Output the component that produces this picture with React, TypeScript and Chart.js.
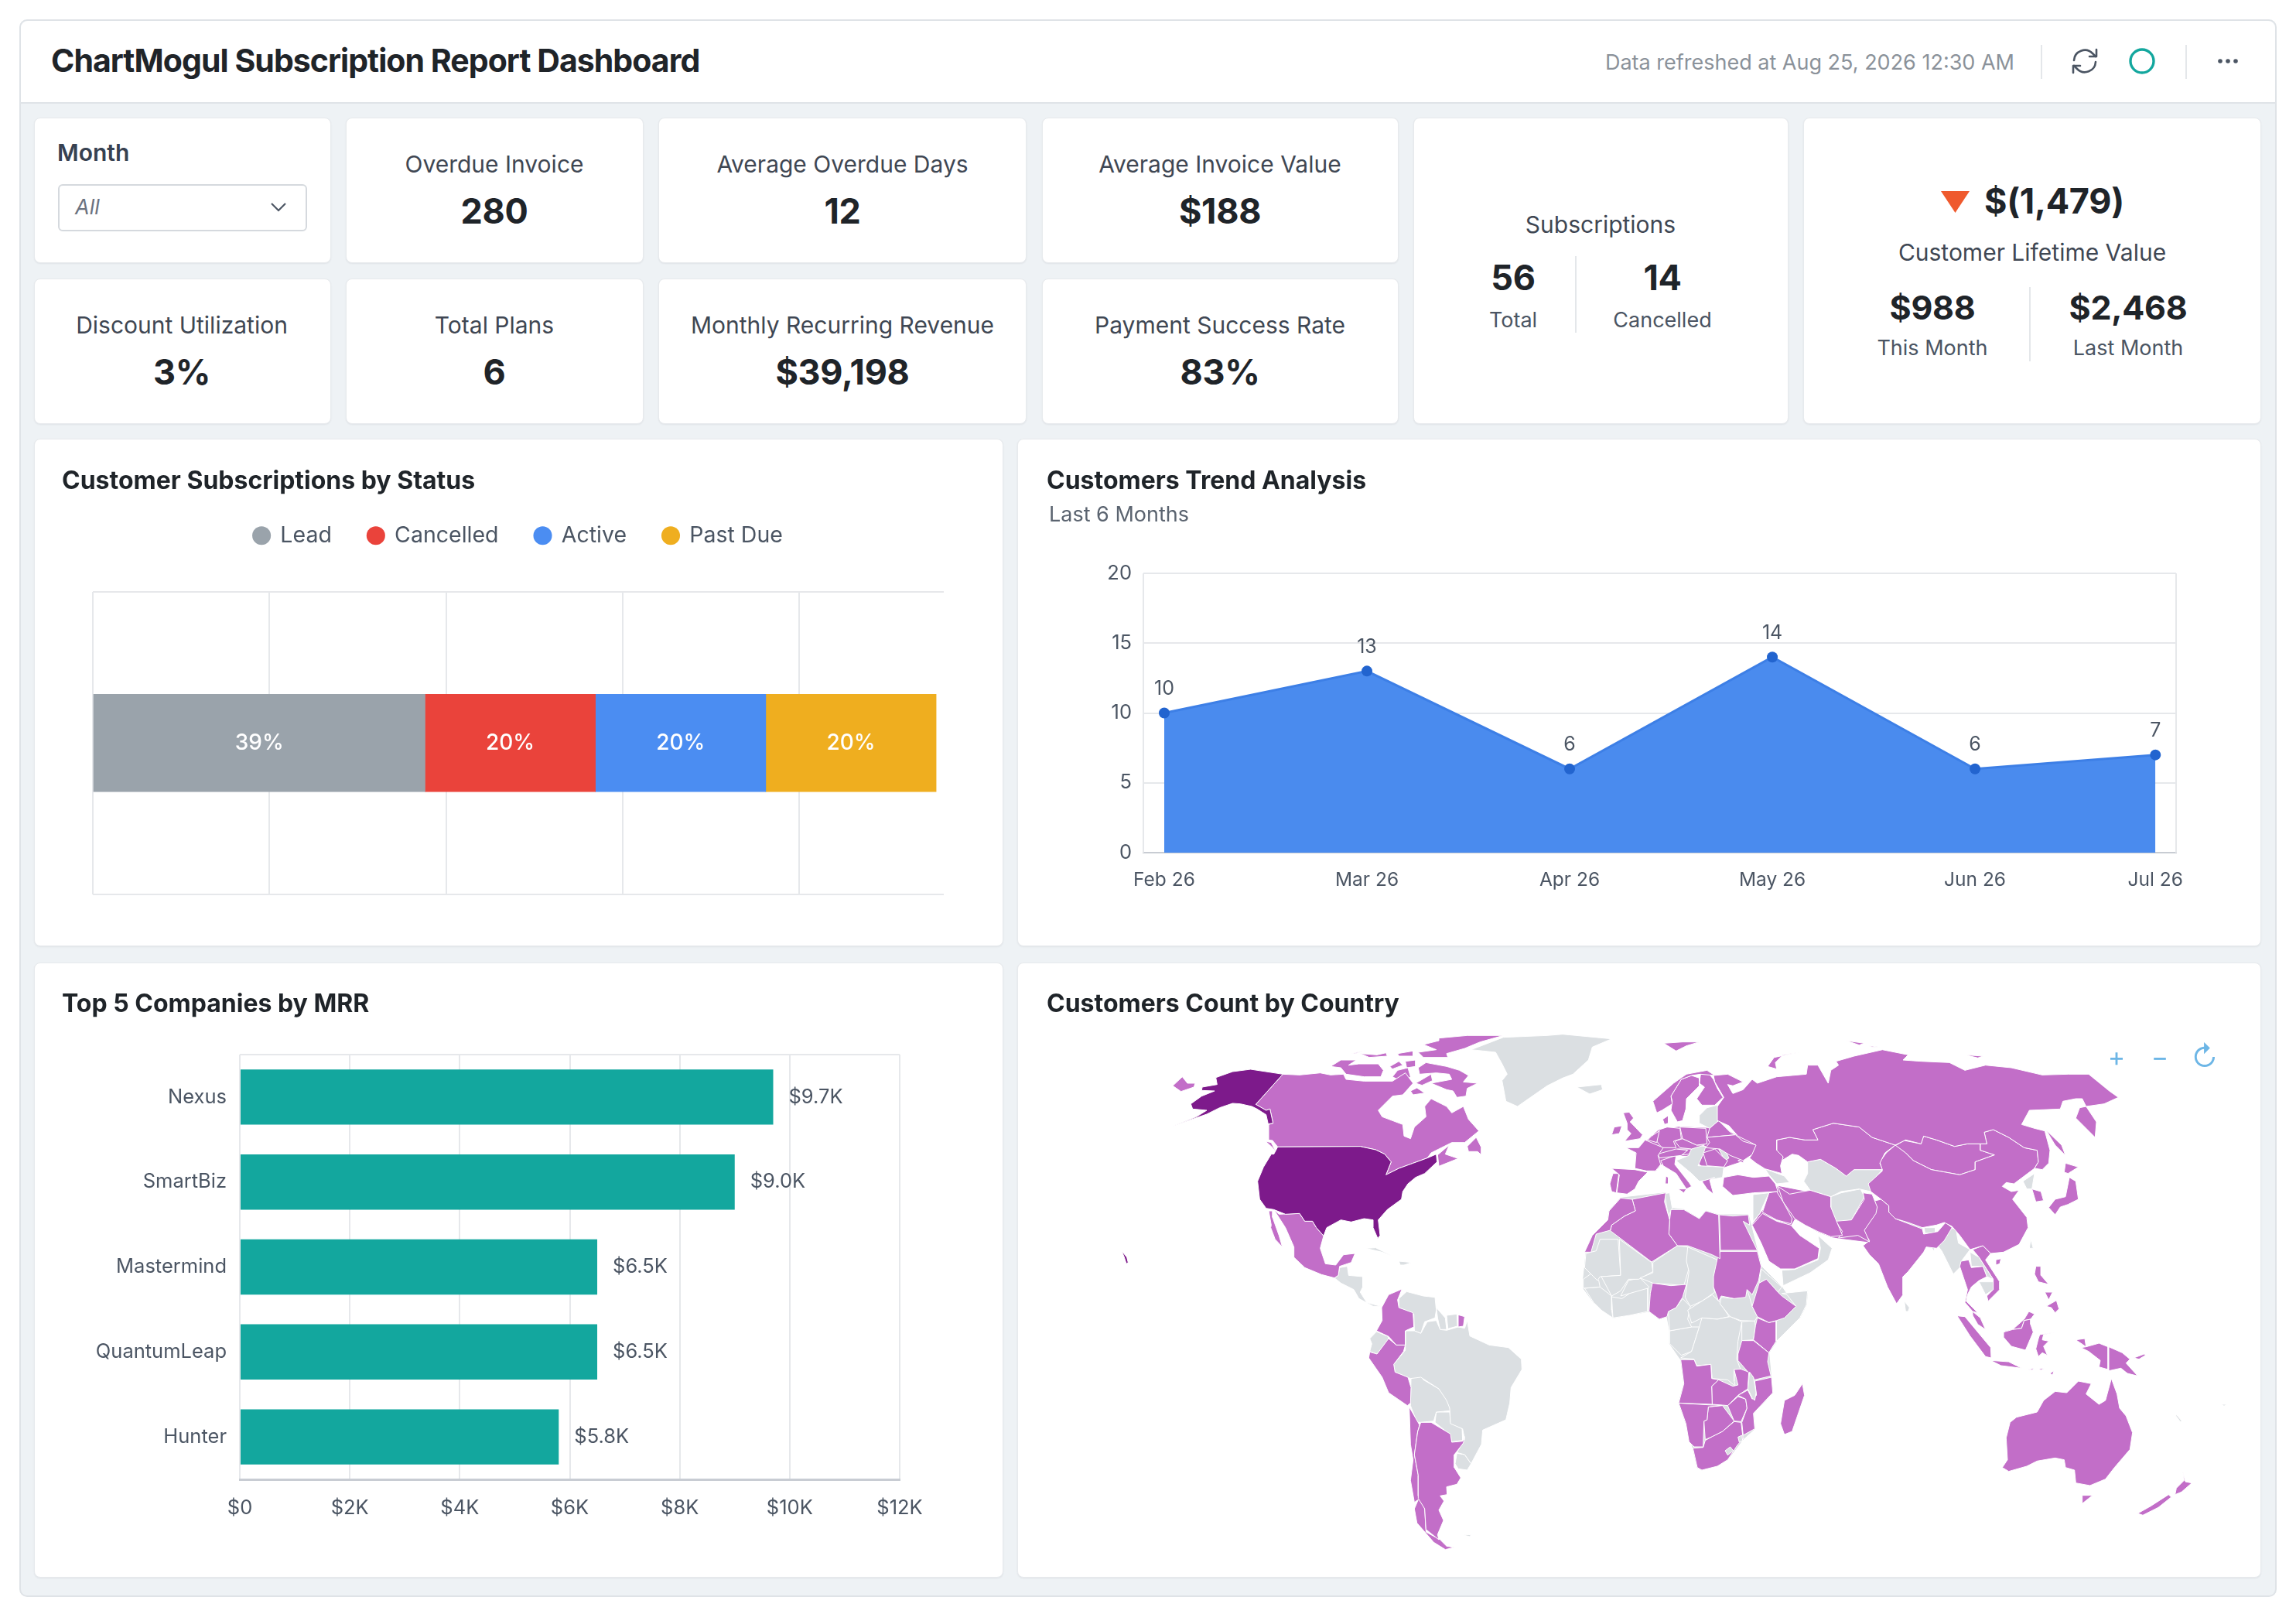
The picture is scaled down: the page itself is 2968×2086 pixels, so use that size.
import { useEffect, useRef } from "react";
import { Chart, registerables } from "chart.js";

Chart.register(...registerables);
Chart.defaults.font.family = "Inter";
Chart.defaults.color = "#4b5563";

// --- tiles ---
const tileTitles = ["Overdue Invoice", "Average Overdue Days", "Average Invoice Value", "Discount Utilization", "Total Plans", "Monthly Recurring Revenue", "Payment Success Rate"];
const tileValues = ["280", "12", "$188", "3%", "6", "$39,198", "83%"];

// --- Customer Subscriptions by Status ---
const statusNames = ["Lead", "Cancelled", "Active", "Past Due"];
const statusShares = [39, 20, 20, 20];
const statusColors = ["#9aa3ab", "#ea433b", "#4b8df2", "#efae1f"];

// --- Customers Trend Analysis ---
const trendMonths = ["Feb 26", "Mar 26", "Apr 26", "May 26", "Jun 26", "Jul 26"];
const trendSlots = [0, 1, 2, 3, 4, 4.89];
const trendCustomers = [10, 13, 6, 14, 6, 7];

// --- Top 5 Companies by MRR ---
const companyNames = ["Nexus", "SmartBiz", "Mastermind", "QuantumLeap", "Hunter"];
const companyMrr = [9700, 9000, 6500, 6500, 5800];
const companyMrrLabels = ["$9.7K", "$9.0K", "$6.5K", "$6.5K", "$5.8K"];

// --- Customers Count by Country: outlines, flat x,y lists per map sheet ---
const americasDark = [
  [275,218,340,195,410,186,535,205,430,322,470,345,485,340,497,395,478,398,470,362,435,340,415,330,370,320,340,318,290,335,240,360,105,407,200,370,240,345,185,340,178,320,220,290,270,270,220,268,222,255,280,245],
  [515,487,835,485,895,498,930,515,955,545,935,595,985,570,1040,550,1095,530,1130,515,1133,545,1085,590,1050,605,1020,630,1000,660,995,690,940,730,905,770,912,830,903,842,885,800,885,770,850,765,800,778,760,770,705,800,693,832,665,800,650,775,620,775,600,745,545,748,500,730,470,725,445,690,437,620,460,565,490,515,500,515],
  [-90,890,-70,915,-65,935,-72,940,-80,915],
];
const americasLight = [
  [108,250,145,215,165,240,195,240,190,255,140,272],
  [535,205,600,208,680,200,720,208,770,205,780,225,850,232,960,232,1010,200,1040,240,1000,285,960,290,905,345,920,370,1000,400,1005,445,1030,455,1045,410,1090,370,1085,330,1110,300,1170,330,1190,355,1235,330,1255,380,1295,425,1240,470,1190,470,1110,510,1095,530,1040,550,985,570,935,595,955,545,930,515,895,498,835,485,515,487,495,462,480,460,480,400,497,395,485,340,470,345,430,322],
  [1135,518,1180,480,1165,515,1215,532,1140,562],
  [1250,485,1285,450,1305,490,1305,518,1290,505,1255,505],
  [468,465,490,470,510,510,495,490],
  [720,175,760,150,820,150,790,170,830,165,905,165,925,190,915,215,850,215,780,205,760,180],
  [1060,180,1090,160,1170,175,1220,190,1255,210,1235,235,1290,240,1250,260,1245,290,1210,295,1195,270,1170,265,1110,240,1190,225,1180,205,1130,200,1065,205],
  [1080,90,1140,75,1140,65,1250,55,1390,55,1300,80,1240,105,1170,125,1175,140,1080,140,1060,120,1130,110],
  [980,125,1040,115,1040,135,985,135],
  [950,175,985,155,1000,170,960,185],
  [980,190,1020,180,1030,215,1000,235,960,215],
  [1030,270,1055,258,1085,278,1040,285],
  [800,125,860,112,815,125],
  [835,125,900,130,935,122,940,135,870,140],
  [1010,155,1050,150,1050,175,1015,180],
  [1050,240,1110,205,1115,230,1075,248],
  [480,735,497,735,495,760,520,830,533,875,505,845,488,800,490,790],
  [500,730,520,748,600,745,620,775,650,775,665,800,693,832,680,880,700,940,740,945,770,905,815,900,800,935,755,950,750,985,735,995,685,982,620,955,578,915,578,875,545,800],
];
const americasGrey = [
  [1265,110,1390,62,1560,55,1620,50,1810,68,1735,100,1720,150,1660,205,1620,220,1560,250,1445,330,1400,310,1385,230,1405,205,1385,165,1360,120],
  [755,955,785,950,790,985,845,990,845,1030,835,1050,860,1090,915,1105,885,1105,830,1075,810,1040,760,1015,735,995,750,985],
  [855,880,895,878,970,915,920,895],
  [985,930,1035,935,1005,945,990,945],
];
const southLight = [
  [397,78,380,120,385,150,440,170,443,225,410,240,410,295,375,295,345,262,298,240,320,200,318,150,345,100],
  [345,270,375,295,410,295,403,320,365,370,370,400,420,420,432,460,430,520,418,530,345,480,320,420,268,345,272,322,300,330],
  [615,178,640,185,635,222,615,225],
  [470,595,510,595,585,640,590,672,632,668,640,650,635,675,600,720,600,770,625,810,610,835,570,845,572,875,545,880,560,900,540,935,558,975,535,1030,540,1050,490,1010,485,930,460,890,460,800,445,720,458,630],
  [425,535,465,605,458,630,445,720,460,800,460,880,485,930,490,1020,545,1050,570,1075,600,1080,565,1088,520,1060,455,985,445,930,460,895,445,905,430,820,440,740,430,680],
];
const southGrey = [
  [298,243,343,262,345,275,300,330,272,320,280,290,272,270],
  [410,240,445,240,470,250,495,205,530,200,545,235,570,238,615,225,640,230,650,200,660,260,735,295,810,305,860,350,862,390,820,460,815,520,800,585,710,625,705,680,665,755,640,720,610,712,640,660,632,620,585,600,582,540,570,510,540,465,470,420,430,425,370,400,365,370,410,315],
  [385,115,415,88,480,105,525,110,530,160,525,190,485,205,470,250,445,240,443,175,385,150],
  [530,150,565,190,570,235,545,235,535,190],
  [570,180,610,175,612,222,575,232],
  [432,425,470,410,480,430,540,465,575,510,585,550,530,555,520,590,470,595,455,595,430,530],
  [530,555,582,555,585,595,630,620,632,665,590,670,580,640,525,595],
  [610,715,640,720,665,755,650,780,615,775,603,755],
  [635,1032,665,1030,660,1038],
];
const eurasiaLight = [
  [585,210,640,205,700,235,660,250,640,245,660,280,700,265,735,225,755,240,830,215,945,205,950,170,990,170,1030,240,1040,190,1070,170,1060,155,1130,135,1240,110,1340,130,1320,150,1390,155,1500,160,1560,190,1640,170,1740,180,1860,208,1960,205,2040,205,2120,270,2155,295,2100,320,2030,330,2015,300,1990,300,1940,310,1930,340,1810,345,1780,400,1830,415,1870,425,1890,500,1885,550,1860,575,1830,570,1845,545,1840,500,1790,490,1730,450,1670,420,1635,430,1645,475,1620,475,1570,475,1520,485,1450,460,1400,445,1390,475,1330,460,1290,480,1200,450,1150,410,1050,395,970,420,990,460,940,460,880,450,830,460,830,500,855,525,845,560,850,590,785,572,750,550,725,530,735,515,750,480,680,445,645,405,600,385,600,330,625,295,590,235],
  [830,460,880,450,940,460,990,460,970,420,1050,395,1150,410,1200,450,1290,480,1250,510,1230,550,1240,575,1130,575,1100,600,1060,570,1000,535,950,545,915,520,890,515,850,540,855,525,830,500],
  [350,310,430,240,480,205,560,190,590,210,535,205,500,210,460,225,420,290,425,320,385,345,365,355],
  [460,225,500,210,530,220,530,250,480,300,478,340,465,385,445,390,420,345,425,310,420,290],
  [535,205,565,200,585,225,600,260,622,295,590,325,540,325,520,300,550,255,530,240],
  [388,380,410,365,410,395,395,400],
  [235,355,258,352,275,375,262,390,310,440,300,455,240,465,265,435,250,420,250,395],
  [190,440,200,410,230,405,220,435],
  [320,460,390,490,370,520,380,555,360,580,325,580,280,570,285,510,245,490,295,490],
  [345,445,375,425,365,470,330,460],
  [375,420,405,410,455,415,460,455,430,465,440,490,385,490,365,465],
  [455,410,555,415,560,475,520,480,465,455],
  [435,465,465,455,520,480,550,480,500,495,455,490],
  [370,515,385,510,440,495,485,500,460,520,375,530],
  [445,495,500,495,490,515,450,520],
  [380,540,440,520,435,555,490,625,500,640,480,650,440,590,390,560],
  [448,650,480,650,470,665],
  [400,600,410,605,410,630,398,630],
  [540,620,590,605,570,615,585,670,560,650],
  [545,510,590,495,620,525,640,540,625,565,560,560],
  [560,450,670,440,700,465,752,480,745,510,700,540,650,520,610,495,555,490,570,470],
  [680,540,705,530,700,548],
  [570,415,605,385,650,430,670,440,560,450],
  [190,570,280,575,330,585,295,620,280,650,250,670,210,665,220,595],
  [183,630,195,590,218,590,208,665,190,660],
  [392,85,465,80,530,80,480,95,440,115],
  [795,175,820,140,918,120,855,130,825,160,830,185],
  [1100,75,1170,85,1150,92],
  [1190,95,1230,100,1200,100],
  [225,685,270,690,282,735,240,755,190,790,185,810,130,825,110,895,85,895,115,830,175,770,180,735],
  [270,690,400,665,395,700,415,770,412,825,445,870,345,933,185,812,190,790,240,755,282,735],
  [420,730,470,730,530,765,555,735,605,750,610,920,580,905,485,870,445,870,412,825,415,770],
  [608,750,660,755,720,750,725,790,700,775,755,888,612,888],
  [612,892,755,892,770,950,760,1005,735,1060,715,1040,710,1070,665,1075,615,1065,605,1085,585,1030,585,990,600,920],
  [735,790,775,745,830,775,885,790,920,830,950,850,995,880,990,920,900,960,845,960,800,930,770,860],
  [800,665,830,660,855,700,890,765,885,785,830,770,775,740],
  [835,640,880,670,960,655,1040,680,1040,720,1060,770,1085,830,1040,835,990,815,940,790,900,765,855,700],
  [625,605,680,595,740,605,800,600,825,630,835,660,740,665,660,675,620,640],
  [1165,665,1200,670,1220,720,1215,745,1170,810,1190,855,1145,830,1070,840,1085,815,1060,775,1120,770,1170,690],
];
const eurasiaGrey = [
  [55,255,150,245,155,265,105,282],
  [530,365,560,335,600,325,605,385,570,415,530,395],
  [440,540,490,520,500,480,555,485,545,515,525,560,625,565,620,605,570,615,530,620,500,590],
  [605,495,630,500,645,530,630,540],
  [395,668,415,665,425,725,410,755],
  [738,672,800,665,775,720,765,745,735,780],
  [850,965,900,962,965,935,990,925,1000,880,990,830,1045,880,1030,925,960,975,855,1025],
  [785,572,860,600,880,625,830,630,800,595],
  [950,545,1000,535,1060,570,1100,600,1130,575,1240,575,1200,620,1195,660,1150,650,1080,660,1040,680,960,655,935,620,950,590],
  [1080,665,1155,650,1170,680,1120,770,1060,780,1040,720,1040,680],
];
// land under the country shapes, so that neighbours with rough edges leave no holes
const eurasiaBase = [
  [285,510,330,460,375,420,455,410,570,415,650,430,752,480,700,540,625,565,540,560,490,520,440,520,380,555,360,580,285,570],
  [735,790,830,660,835,640,1040,680,1165,665,1220,720,1190,855,1070,840,1040,835,990,815,900,765,885,790,775,745],
];
const africaBase = [
  [225,-155,400,-175,425,-115,470,-110,530,-75,555,-105,605,-90,720,-90,755,48,770,110,850,190,870,220,950,205,945,260,920,310,830,400,800,445,808,535,815,600,740,680,745,740,700,780,640,860,540,900,522,890,505,815,478,720,450,640,470,565,458,472,415,410,415,360,405,305,375,315,335,285,195,310,120,250,80,195,80,160,85,115,90,60,115,-10,175,-70,180,-105],
];
const africaLight = [
  [790,160,835,210,850,225,905,265,860,310,830,320,800,328,755,305,735,265,762,175],
  [755,310,800,328,828,322,828,400,800,445,740,395,748,340],
  [695,398,740,398,800,445,795,480,808,535,745,550,715,515,680,475,680,450],
  [348,175,420,185,480,180,465,230,440,270,410,285,405,305,375,315,335,285,340,215],
  [458,472,510,472,520,497,575,490,578,545,605,550,578,575,580,645,450,640,470,565],
  [578,575,605,550,660,575,680,570,665,510,690,508,722,520,718,585,680,610,640,650,620,648,580,645],
  [745,555,810,540,815,600,740,680,745,740,700,765,695,715,715,660,710,625,680,610,718,590,735,625,752,610],
  [640,650,680,615,710,625,715,660,692,712,665,710],
  [450,640,580,648,620,648,565,655,560,705,548,710,545,810,510,810,490,790,478,720],
  [565,655,620,650,665,710,620,750,580,770,553,782,548,710,560,705],
  [553,785,580,770,620,750,665,712,692,715,700,780,680,800,640,860,600,885,540,900,522,890,505,815,545,812],
  [930,565,938,610,890,750,860,762,845,720,860,630,900,610],
];
const africaEnclaves = [
  [725,520,740,540,750,600,745,630,735,620,718,585],
  [630,825,650,810,662,825,640,842],
  [680,772,695,765,698,785,685,792],
];
const africaGrey = [
  [950,205,945,260,920,310,830,400,828,322,905,265,870,220,850,215],
  [770,120,850,190,835,210,790,160,762,175],
  [615,230,665,235,715,200,725,230,735,265,755,305,745,322,690,320,650,305,610,255],
  [695,325,745,320,748,345,740,395,695,398],
  [540,310,600,315,650,305,695,325,680,400,675,470,690,510,665,510,665,555,670,575,640,550,580,545,575,490,520,495,510,470,458,465,500,440,530,345],
  [485,280,540,245,580,220,610,250,645,305,600,315,540,310,500,330],
  [485,35,600,85,600,155,585,190,590,210,540,245,495,265,475,230,490,130,480,90],
  [350,95,445,30,485,35,495,100,470,185,420,180,350,175,300,155,350,135],
  [220,5,345,95,350,130,295,160,255,160,225,205,190,225,150,150,225,145],
  [90,60,130,50,145,5,215,5,225,145,145,150,135,165,85,115],
  [80,160,115,135,140,165,145,190,80,195],
  [85,195,145,190,190,225,190,280,195,310,150,280,120,250],
  [190,228,230,235,260,215,330,195,330,285,260,300,195,310],
  [225,225,255,165,300,155,335,190,315,215,260,215],
  [465,235,495,265,485,315,500,345,415,360,410,285,440,270],
  [415,360,500,345,530,345,500,440,460,455,415,410],
];
const asiaLight = [
  [150,480,190,510,220,540,290,575,400,595,460,575,460,545,535,518,480,500,480,475,505,475,495,430,530,420,590,450,650,490,700,500,705,545,690,570,650,600,610,630,580,625,565,640,600,660,630,655,605,690,660,760,665,800,630,865,570,895,520,900,490,870,440,885,400,830,370,795,340,780,310,790,255,800,200,780,150,765,125,740,125,715,95,690,55,660,45,630,100,580,90,545,115,510],
  [150,482,185,462,250,475,260,445,310,460,380,485,430,475,480,475,480,500,535,518,460,545,460,575,400,595,290,575,220,540,190,510],
  [55,700,95,690,125,715,125,740,150,765,255,805,260,825,315,815,345,780,370,800,340,850,310,880,270,875,260,895,200,970,180,990,180,1060,155,1095,120,1030,85,940,50,905,25,870,50,850,25,810,70,750],
  [865,335,890,330,930,390,925,450,850,375],
  [735,422,795,480,810,520,770,480],
  [810,550,860,565,820,590,805,585],
  [825,605,850,620,860,690,820,710,790,720,770,750,745,722,770,690,810,680],
  [680,650,715,660,725,695,695,700],
  [405,930,435,925,445,955,490,950,505,990,475,1005,445,1030,430,1060,425,1085,470,1130,450,1125,420,1090,430,1040,400,950],
  [450,885,490,870,520,900,500,925,555,1010,555,1040,510,1085,505,1065,530,1040,530,1000,475,915],
  [540,925,560,920,555,940,540,945],
  [390,1142,420,1145,520,1265,522,1305,500,1300,440,1220],
  [450,1125,480,1150,500,1195,470,1175,450,1140],
  [570,1205,605,1195,640,1190,650,1160,675,1155,675,1175,685,1205,655,1275,600,1260,570,1225],
  [575,1200,605,1195,650,1155,668,1125,690,1135,675,1155,650,1160,640,1190,605,1195,580,1207],
  [710,1215,770,1205,725,1215,720,1235,745,1240,725,1260,740,1295,720,1285,705,1300,695,1270,705,1230],
  [520,1315,590,1320,640,1345,560,1335],
  [665,1350,690,1345,680,1352],
  [705,1348,730,1345,715,1352],
  [750,1365,765,1355,760,1372],
  [850,1235,885,1230,890,1262,940,1248,975,1262,975,1350,940,1340,945,1315,900,1280,870,1265,890,1262],
  [978,1262,1030,1285,1060,1310,1045,1325,1090,1375,1050,1365,1025,1345,978,1355],
  [1075,1305,1115,1290,1120,1295,1095,1310],
  [695,950,715,950,715,985,745,1020,705,1010,690,980],
  [735,1105,775,1082,785,1115,770,1130,755,1110],
  [730,1050,760,1050,745,1080],
  [420,130,490,135,470,142],
];
const asiaGrey = [
  [150,770,165,762,258,800,250,825,190,805,150,790],
  [262,800,305,800,305,820,265,822],
  [262,830,310,845,300,890,270,850],
  [355,800,385,805,395,860,440,885,410,925,400,955,375,980,330,890,315,870,340,850],
  [440,895,475,915,530,1000,505,990,490,950,445,950],
  [475,1010,530,1010,530,1040,500,1060],
  [675,845,685,880,670,880],
  [185,1085,205,1110,200,1125,190,1125],
  [645,620,690,590,680,650,660,650],
];
const oceaniaLight = [
  [565,830,585,800,580,715,595,655,620,635,700,615,725,570,770,535,815,540,860,495,910,505,890,545,940,585,965,570,988,485,1010,545,1020,600,1045,630,1070,695,1060,760,1000,830,965,875,905,900,850,890,845,840,810,830,805,800,770,793,700,805,660,825,590,845],
  [875,938,915,938,875,970],
  [1090,1008,1140,980,1210,935,1220,945,1170,985,1110,1015],
  [1235,935,1240,910,1270,880,1265,845,1275,885,1300,890,1260,925],
];
const oceaniaGrey = [
  [1240,625,1262,650,1255,652,1238,630],
  [1415,585,1435,585,1425,592],
];

const TONE_TOP = "#7d1a8b";
const TONE_SOME = "#c26ec8";
const TONE_NONE = "#dbdfe2";

const sheet = (dx: number, dy: number, shapes: number[][], color: string, edge = "#ffffff") =>
  shapes.map((flat) => {
    const points: { x: number; y: number }[] = [];
    for (let i = 0; i < flat.length; i += 2) points.push({ x: flat[i] + dx, y: flat[i + 1] + dy });
    points.push(points[0]);
    return { color, edge, points };
  });

// first listed is painted last, so enclaves stay on top and the base land stays under everything
const mapShapes = [
  ...sheet(1620, 840, africaEnclaves, TONE_NONE),
  ...sheet(0, 0, americasDark, TONE_TOP),
  ...sheet(0, 0, americasLight, TONE_SOME),
  ...sheet(600, 960, southLight, TONE_SOME),
  ...sheet(1620, 0, eurasiaLight, TONE_SOME),
  ...sheet(1620, 840, africaLight, TONE_SOME),
  ...sheet(2760, 0, asiaLight, TONE_SOME),
  ...sheet(2760, 900, oceaniaLight, TONE_SOME),
  ...sheet(0, 0, americasGrey, TONE_NONE),
  ...sheet(600, 960, southGrey, TONE_NONE),
  ...sheet(1620, 0, eurasiaGrey, TONE_NONE),
  ...sheet(1620, 840, africaGrey, TONE_NONE),
  ...sheet(2760, 0, asiaGrey, TONE_NONE),
  ...sheet(2760, 900, oceaniaGrey, TONE_NONE),
  ...sheet(1620, 0, eurasiaBase, TONE_SOME, TONE_SOME),
  ...sheet(1620, 840, africaBase, TONE_NONE, TONE_NONE),
];

const GRID = "#e6e8eb";

const buildStatusChart = (canvas: HTMLCanvasElement) =>
  new Chart(canvas, {
    type: "bar",
    data: {
      labels: ["Status"],
      datasets: statusNames.map((name, i) => ({
        label: name,
        data: [statusShares[i]],
        backgroundColor: statusColors[i],
        barThickness: 126,
      })),
    },
    options: {
      indexAxis: "y",
      animation: false,
      responsive: true,
      maintainAspectRatio: false,
      layout: { padding: { top: 64, left: 76, right: 75, bottom: 67 } },
      plugins: {
        tooltip: { enabled: false },
        legend: {
          position: "top",
          labels: {
            usePointStyle: true,
            pointStyle: "circle",
            boxWidth: 20,
            boxHeight: 17,
            padding: 47,
            color: "#4b5563",
            font: { size: 28.5 },
          },
        },
      },
      scales: {
        x: {
          position: "top",
          stacked: true,
          min: 0,
          max: 99.9,
          ticks: { display: false, stepSize: 20.73, includeBounds: false },
          grid: { color: GRID, lineWidth: 2, drawTicks: false },
          border: { display: false },
          afterFit: (scale: any) => {
            scale.height = 48;
          },
        },
        y: {
          stacked: true,
          ticks: { display: false },
          grid: { color: GRID, lineWidth: 2, drawTicks: false },
          border: { display: false },
        },
      },
    },
    plugins: [
      {
        id: "shareLabels",
        afterDatasetsDraw: (chart: any) => {
          const { ctx } = chart;
          ctx.save();
          ctx.fillStyle = "#fff";
          ctx.font = "500 28px Inter";
          ctx.textAlign = "center";
          ctx.textBaseline = "middle";
          statusShares.forEach((share, i) => {
            const bar = chart.getDatasetMeta(i).data[0];
            ctx.fillText(`${share}%`, (bar.x + bar.base) / 2, bar.y);
          });
          ctx.restore();
        },
      },
    ],
  } as any);

const buildTrendChart = (canvas: HTMLCanvasElement) =>
  new Chart(canvas, {
    type: "line",
    data: {
      datasets: [
        {
          label: "Customers",
          data: trendSlots.map((slot, i) => ({ x: slot, y: trendCustomers[i] })),
          borderColor: "#3d7fe6",
          borderWidth: 3,
          backgroundColor: "#4a8bee",
          fill: "origin",
          tension: 0,
          pointRadius: 7,
          pointBackgroundColor: "#2264cf",
          pointBorderWidth: 0,
        },
      ],
    },
    options: {
      animation: false,
      responsive: true,
      maintainAspectRatio: false,
      layout: { padding: { top: 174, right: 108 } },
      plugins: { legend: { display: false }, tooltip: { enabled: false } },
      scales: {
        x: {
          type: "linear",
          min: -0.103,
          max: 4.992,
          afterBuildTicks: (scale: any) => {
            scale.ticks = trendSlots.map((value) => ({ value }));
          },
          ticks: {
            autoSkip: false,
            maxRotation: 0,
            padding: 13,
            font: { size: 24.5 },
            callback: (_v: any, i: number) => trendMonths[i],
          },
          grid: { display: false },
          border: { color: "#c8ccd3", width: 2 },
          afterFit: (scale: any) => {
            scale.height = 121;
          },
        },
        y: {
          min: 0,
          max: 20,
          ticks: { stepSize: 5, padding: 15, font: { size: 25.5 } },
          grid: { color: GRID, lineWidth: 2, drawTicks: false },
          border: { display: false },
          afterFit: (scale: any) => {
            scale.width = 162;
          },
        },
      },
    },
    plugins: [
      {
        id: "plotEdges",
        beforeDatasetsDraw: (chart: any) => {
          const { ctx, chartArea: a } = chart;
          ctx.save();
          ctx.strokeStyle = GRID;
          ctx.lineWidth = 2;
          ctx.beginPath();
          ctx.moveTo(a.left, a.top);
          ctx.lineTo(a.left, a.bottom);
          ctx.moveTo(a.right, a.top);
          ctx.lineTo(a.right, a.bottom);
          ctx.stroke();
          ctx.restore();
        },
      },
      {
        id: "pointLabels",
        afterDatasetsDraw: (chart: any) => {
          const { ctx } = chart;
          ctx.save();
          ctx.fillStyle = "#4b5563";
          ctx.font = "25px Inter";
          ctx.textAlign = "center";
          ctx.textBaseline = "middle";
          chart.getDatasetMeta(0).data.forEach((pt: any, i: number) => {
            ctx.fillText(String(trendCustomers[i]), pt.x, pt.y - 31);
          });
          ctx.restore();
        },
      },
    ],
  } as any);

const buildCompanyChart = (canvas: HTMLCanvasElement) =>
  new Chart(canvas, {
    type: "bar",
    data: {
      labels: companyNames,
      datasets: [
        {
          label: "MRR",
          data: companyMrr,
          backgroundColor: "#13a79e",
          barPercentage: 0.65,
          categoryPercentage: 1,
        },
      ],
    },
    options: {
      indexAxis: "y",
      animation: false,
      responsive: true,
      maintainAspectRatio: false,
      layout: { padding: { top: 119, right: 132 } },
      plugins: { legend: { display: false }, tooltip: { enabled: false } },
      scales: {
        x: {
          min: 0,
          max: 12000,
          ticks: {
            stepSize: 2000,
            padding: 22,
            font: { size: 25.5 },
            callback: (v: any) => (v === 0 ? "$0" : `$${v / 1000}K`),
          },
          grid: { color: GRID, lineWidth: 2, drawTicks: false },
          border: { color: "#c8ccd3", width: 3 },
          afterFit: (scale: any) => {
            scale.height = 127;
          },
        },
        y: {
          ticks: { padding: 17, font: { size: 25.5 } },
          grid: {
            drawTicks: false,
            lineWidth: 2,
            color: (c: any) => (c.index === 0 ? GRID : "transparent"),
          },
          border: { display: false },
          afterFit: (scale: any) => {
            scale.width = 266;
          },
        },
      },
    },
    plugins: [
      {
        id: "mrrLabels",
        afterDatasetsDraw: (chart: any) => {
          const { ctx } = chart;
          ctx.save();
          ctx.fillStyle = "#4b5563";
          ctx.font = "25.5px Inter";
          ctx.textBaseline = "middle";
          chart.getDatasetMeta(0).data.forEach((bar: any, i: number) => {
            ctx.fillText(companyMrrLabels[i], bar.x + 20, bar.y);
          });
          ctx.restore();
        },
      },
    ],
  } as any);

const buildMapChart = (canvas: HTMLCanvasElement) =>
  new Chart(canvas, {
    type: "scatter",
    data: {
      datasets: mapShapes.map((shape) => ({
        data: shape.points,
        showLine: true,
        fill: "shape",
        tension: 0,
        backgroundColor: shape.color,
        borderColor: shape.edge,
        borderWidth: 1,
        borderJoinStyle: "round",
        pointRadius: 0,
      })),
    },
    options: {
      animation: false,
      responsive: true,
      maintainAspectRatio: false,
      layout: { padding: 0 },
      plugins: { legend: { display: false }, tooltip: { enabled: false } },
      scales: {
        x: { display: false, min: -492, max: 4323 },
        y: { display: false, reverse: true, min: -228, max: 2157 },
      },
    },
  } as any);

type Box = { left: number; top: number; width: number; height: number };

const ChartCard = ({ box, build }: { box: Box; build: (c: HTMLCanvasElement) => Chart }) => {
  const ref = useRef<HTMLCanvasElement>(null);
  useEffect(() => {
    if (!ref.current) return;
    const chart = build(ref.current);
    return () => chart.destroy();
  }, [build]);
  return (
    <div style={{ position: "absolute", ...box }}>
      <canvas ref={ref} />
    </div>
  );
};

const card = (left: number, top: number, right: number, bottom: number) => (
  <div
    style={{
      position: "absolute",
      left,
      top,
      width: right - left,
      height: bottom - top,
      boxSizing: "border-box",
      background: "#fff",
      border: "1px solid #e7eaed",
      borderRadius: 8,
      boxShadow: "0 1px 2px rgba(60,70,80,0.08)",
    }}
  />
);

const Label = ({ x, y, size = 30, weight = 400, color = "#3f4753", align = "center", italic = false, tight = 0, children }: any) => (
  <div
    style={{
      position: "absolute",
      left: align === "left" ? x : align === "center" ? x - 500 : x - 1000,
      width: 1000,
      top: y - 40,
      height: 80,
      lineHeight: "80px",
      textAlign: align,
      fontSize: size,
      fontWeight: weight,
      letterSpacing: tight,
      color,
      fontStyle: italic ? "italic" : "normal",
      whiteSpace: "nowrap",
    }}
  >
    {children}
  </div>
);

const Rule = ({ x, y0, y1 }: { x: number; y0: number; y1: number }) => (
  <div style={{ position: "absolute", left: x, top: y0, width: 2, height: y1 - y0, background: "#e4e7ea" }} />
);

const Figure = ({ x, y, size = 45, align = "center", children }: any) => (
  <Label x={x} y={y} size={size} weight={700} color="#1f2429" align={align} tight={-0.3}>
    {children}
  </Label>
);

const CardTitle = ({ x, y, children }: any) => (
  <Label x={x} y={y} size={32} weight={650} color="#1f2429" align="left">
    {children}
  </Label>
);

const tileCenters = [
  [639, 212, 273],
  [1089, 212, 273],
  [1577, 212, 273],
  [235, 420, 481],
  [639, 420, 481],
  [1089, 420, 481],
  [1577, 420, 481],
];

const boxA = { left: 44, top: 567, width: 1251, height: 656 };
const boxB = { left: 1316, top: 567, width: 1605, height: 656 };
const boxC = { left: 44, top: 1244, width: 1251, height: 795 };
const boxD = { left: 1316, top: 1244, width: 1605, height: 795 };

export default function App() {
  return (
    <div style={{ position: "absolute", left: 0, top: 0, width: 2968, height: 2086, background: "#fff", fontFamily: "Inter", overflow: "hidden" }}>
      <div style={{ position: "absolute", left: 25, top: 25, width: 2914, height: 2035, background: "#eef2f5", border: "2px solid #dfe3e7", borderRadius: 10 }} />
      <div style={{ position: "absolute", left: 27, top: 27, width: 2914, height: 105, background: "#fff", borderBottom: "2px solid #dfe3e7", borderRadius: "9px 9px 0 0" }} />

      <Label x={66} y={78} size={41} weight={650} color="#1f2429" align="left" tight={-0.95}>ChartMogul Subscription Report Dashboard</Label>
      <Label x={2604} y={81} size={27} color="#8b929a" align="right">Data refreshed at Aug 25, 2026 12:30 AM</Label>
      <Rule x={2638} y0={58} y1={102} />
      <Rule x={2825} y0={58} y1={102} />
      <svg style={{ position: "absolute", left: 2675, top: 59 }} width={40} height={40} viewBox="0 0 40 40" fill="none" stroke="#4b5563" strokeWidth={2.6} strokeLinecap="round" strokeLinejoin="round">
        <path d="M6 19a14 14 0 0 1 24-9l4 4" />
        <path d="M35 5v9h-9" />
        <path d="M34 21a14 14 0 0 1-24 9l-4-4" />
        <path d="M5 35v-9h9" />
      </svg>
      <svg style={{ position: "absolute", left: 2749, top: 59 }} width={40} height={40} fill="none" stroke="#13a79e" strokeWidth={3.4}>
        <circle cx={20} cy={20} r={15} />
      </svg>
      <svg style={{ position: "absolute", left: 2860, top: 69 }} width={40} height={20} fill="#4b5563">
        <circle cx={10} cy={10} r={2.8} />
        <circle cx={20} cy={10} r={2.8} />
        <circle cx={30} cy={10} r={2.8} />
      </svg>

      {card(44, 152, 428, 340)}
      {card(447, 152, 832, 340)}
      {card(851, 152, 1327, 340)}
      {card(1347, 152, 1808, 340)}
      {card(44, 360, 428, 548)}
      {card(447, 360, 832, 548)}
      {card(851, 360, 1327, 548)}
      {card(1347, 360, 1808, 548)}
      {card(1827, 152, 2312, 548)}
      {card(2331, 152, 2923, 548)}
      {card(44, 567, 1297, 1223)}
      {card(1315, 567, 2923, 1223)}
      {card(44, 1244, 1297, 2039)}
      {card(1315, 1244, 2923, 2039)}

      <Label x={74} y={197} size={30} weight={600} color="#374151" align="left">Month</Label>
      <div style={{ position: "absolute", left: 75, top: 238, width: 318, height: 57, border: "2px solid #d5d9de", borderRadius: 6 }} />
      <Label x={97} y={268} size={27} color="#6b7280" align="left" italic>All</Label>
      <svg style={{ position: "absolute", left: 348, top: 260 }} width={24} height={16} fill="none" stroke="#4b5563" strokeWidth={2.2}>
        <path d="M3 3l9 9 9-9" />
      </svg>

      {tileTitles.map((title, i) => (
        <div key={title}>
          <Label x={tileCenters[i][0]} y={tileCenters[i][1]}>{title}</Label>
          <Figure x={tileCenters[i][0]} y={tileCenters[i][2]}>{tileValues[i]}</Figure>
        </div>
      ))}

      <Label x={2069} y={290}>Subscriptions</Label>
      <Figure x={1956} y={359}>56</Figure>
      <Figure x={2149} y={359}>14</Figure>
      <Label x={1956} y={414} size={27} color="#4b5563">Total</Label>
      <Label x={2149} y={414} size={27} color="#4b5563">Cancelled</Label>
      <Rule x={2036} y0={331} y1={430} />

      <svg style={{ position: "absolute", left: 2509, top: 246 }} width={38} height={30} fill="#ef5a2e">
        <path d="M0 1h37L18.5 29z" />
      </svg>
      <Figure x={2565} y={260} align="left">$(1,479)</Figure>
      <Label x={2627} y={326}>Customer Lifetime Value</Label>
      <Figure x={2498} y={397} size={43}>$988</Figure>
      <Figure x={2751} y={397} size={43}>$2,468</Figure>
      <Label x={2498} y={450} size={27} color="#4b5563">This Month</Label>
      <Label x={2751} y={450} size={27} color="#4b5563">Last Month</Label>
      <Rule x={2623} y0={371} y1={467} />

      <ChartCard box={boxA} build={buildStatusChart} />
      <ChartCard box={boxB} build={buildTrendChart} />
      <ChartCard box={boxC} build={buildCompanyChart} />
      <ChartCard box={boxD} build={buildMapChart} />

      <CardTitle x={80} y={621}>Customer Subscriptions by Status</CardTitle>
      <CardTitle x={1353} y={621}>Customers Trend Analysis</CardTitle>
      <Label x={1356} y={665} size={27} color="#5b6470" align="left">Last 6 Months</Label>
      <CardTitle x={80} y={1297}>Top 5 Companies by MRR</CardTitle>
      <CardTitle x={1353} y={1297}>Customers Count by Country</CardTitle>

      <Label x={2736} y={1366} size={34} color="#6db6e6">+</Label>
      <Label x={2792} y={1366} size={34} color="#6db6e6">−</Label>
      <Label x={2850} y={1366} size={36} color="#6db6e6">↻</Label>
    </div>
  );
}
